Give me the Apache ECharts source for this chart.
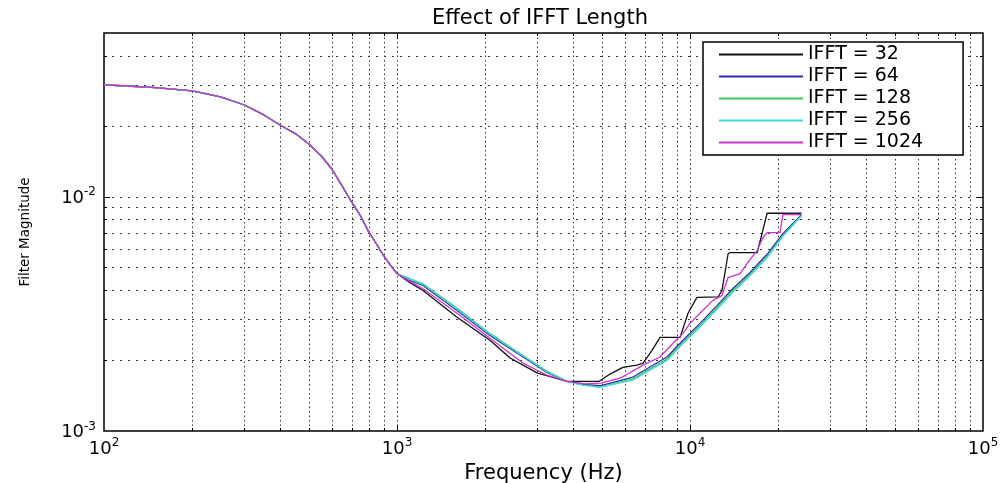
<!DOCTYPE html>
<html><head><meta charset="utf-8">
<script src="https://cdn.jsdelivr.net/npm/echarts@6/dist/echarts.min.js"></script>
<style>html,body{margin:0;padding:0;background:#fff}#c{width:1005px;height:483px}</style>
</head><body><div id="c"></div>
<script>
// ---- data ----
const seriesNames = ['IFFT = 32', 'IFFT = 64', 'IFFT = 128', 'IFFT = 256', 'IFFT = 1024'];
const seriesColors = ['#111111', '#2a2ab4', '#3cc85a', '#40d8d8', '#cc33cc'];

// shared low-frequency part (all curves overlap)
const lowFreq = [100, 120, 150, 200, 250, 300, 350, 400, 450, 500, 550, 600, 650, 700, 750, 800, 850, 900, 950, 1000];
const lowMag  = [0.0300, 0.0297, 0.0292, 0.0283, 0.0267, 0.0247, 0.0224, 0.0202, 0.0186, 0.0168, 0.0150, 0.0131, 0.0111, 0.0095, 0.0083, 0.0071, 0.0063, 0.0056, 0.0051, 0.0047];

const freq32 = [1100, 1227, 1603, 2075, 2432, 3006, 3802, 4900, 5333, 5902, 6592, 6918, 7420, 7902, 9250, 9846, 10560, 12470, 12860, 13490, 13710, 16950, 17620, 18330, 24000];
const mag32  = [0.00432, 0.00398, 0.00306, 0.00244, 0.00205, 0.00177, 0.00163, 0.00163, 0.00175, 0.00187, 0.00191, 0.00195, 0.00221, 0.00251, 0.00251, 0.00318, 0.00372, 0.00374, 0.00398, 0.00571, 0.00577, 0.00577, 0.00697, 0.00850, 0.00850];

const freqSmooth = [1100, 1227, 1603, 2075, 2692, 3251, 3802, 4311, 4931, 6391, 8347, 9463, 10820, 12360, 14020, 16030, 18330, 20750, 24000];
const mag64  = [0.00440, 0.00418, 0.00327, 0.00256, 0.00207, 0.00178, 0.00163, 0.00158, 0.00156, 0.00170, 0.00207, 0.00244, 0.00288, 0.00343, 0.00406, 0.00475, 0.00568, 0.00695, 0.00838];
const mag128 = [0.00448, 0.00425, 0.00334, 0.00261, 0.00210, 0.00180, 0.00163, 0.00157, 0.00154, 0.00167, 0.00203, 0.00239, 0.00282, 0.00336, 0.00398, 0.00466, 0.00557, 0.00684, 0.00832];
const mag256 = [0.00446, 0.00423, 0.00331, 0.00259, 0.00209, 0.00179, 0.00163, 0.00157, 0.00154, 0.00165, 0.00200, 0.00236, 0.00278, 0.00331, 0.00392, 0.00460, 0.00550, 0.00678, 0.00828];

const freq1024 = [1100, 1227, 1603, 2075, 2692, 3251, 3802, 4400, 4972, 5768, 6918, 7902, 8750, 9463, 10000, 10820, 11970, 12860, 13490, 14830, 15670, 16950, 17750, 18330, 20280, 20750, 24000];
const mag1024  = [0.00436, 0.00405, 0.00318, 0.00249, 0.00195, 0.00173, 0.00163, 0.00159, 0.00160, 0.00168, 0.00191, 0.00207, 0.00237, 0.00261, 0.00288, 0.00318, 0.00361, 0.00379, 0.00452, 0.00470, 0.00519, 0.00589, 0.00670, 0.00703, 0.00703, 0.00840, 0.00840];

// axis ranges and grid values
const xMin = 100, xMax = 100000, yMin = 0.001, yMax = 0.05;
const xGrid = [200, 300, 400, 500, 600, 700, 800, 900, 1000, 2000, 3000, 4000, 5000, 6000, 7000, 8000, 9000, 10000, 20000, 30000, 40000, 50000, 60000, 70000, 80000, 90000];
const yGrid = [0.002, 0.003, 0.004, 0.005, 0.006, 0.007, 0.008, 0.009, 0.01, 0.02, 0.03, 0.04];
const xMajor = [1000, 10000];
const yMajor = [0.01];

// ---- build ----
function zip(a, b) { return a.map((v, i) => [v, b[i]]); }
const low = zip(lowFreq, lowMag);
const curves = [
  low.concat(zip(freq32, mag32)),
  low.concat(zip(freqSmooth, mag64)),
  low.concat(zip(freqSmooth, mag128)),
  low.concat(zip(freqSmooth, mag256)),
  low.concat(zip(freq1024, mag1024))
];

const FONT = 'DejaVu Sans';
const rich = {
  b: { fontFamily: FONT, fontSize: 18, lineHeight: 21, verticalAlign: 'bottom', color: '#000' },
  s: { fontFamily: FONT, fontSize: 12, lineHeight: 12, verticalAlign: 'top', color: '#000' }
};
function fmt(v) {
  const e = Math.round(Math.log10(v));
  if (Math.abs(v / Math.pow(10, e) - 1) > 1e-6) return '';
  return '{b|10}{s|' + e + '}';
}

function vGrid(params, api) {
  const v = api.value(0);
  const cs = params.coordSys;
  const x = Math.round(api.coord([v, yMin])[0]) + 0.5;
  const top = cs.y, bot = cs.y + cs.height;
  const len = xMajor.indexOf(v) >= 0 ? 6 : 3;
  return { type: 'group', children: [
    { type: 'line', shape: { x1: x, y1: top, x2: x, y2: bot }, style: { stroke: '#333', lineWidth: 1, lineDash: [1.5, 3] } },
    { type: 'line', shape: { x1: x, y1: bot, x2: x, y2: bot - len }, style: { stroke: '#000', lineWidth: 1 } },
    { type: 'line', shape: { x1: x, y1: top, x2: x, y2: top + len }, style: { stroke: '#000', lineWidth: 1 } }
  ]};
}
function hGrid(params, api) {
  const v = api.value(1);
  const cs = params.coordSys;
  const y = Math.round(api.coord([xMin, v])[1]) + 0.5;
  const left = cs.x, right = cs.x + cs.width;
  const len = yMajor.indexOf(v) >= 0 ? 6 : 3;
  return { type: 'group', children: [
    { type: 'line', shape: { x1: left, y1: y, x2: right, y2: y }, style: { stroke: '#333', lineWidth: 1, lineDash: [2, 6] } },
    { type: 'line', shape: { x1: left, y1: y, x2: left + len, y2: y }, style: { stroke: '#000', lineWidth: 1 } },
    { type: 'line', shape: { x1: right, y1: y, x2: right - len, y2: y }, style: { stroke: '#000', lineWidth: 1 } }
  ]};
}

const chart = echarts.init(document.getElementById('c'), null, { renderer: 'canvas' });
const series = [
  { type: 'custom', renderItem: vGrid, data: xGrid.map(v => [v, yMin]), encode: { x: 0, y: 1 }, silent: true, z: 1 },
  { type: 'custom', renderItem: hGrid, data: yGrid.map(v => [xMin, v]), encode: { x: 0, y: 1 }, silent: true, z: 1 }
];
seriesNames.forEach((n, i) => {
  series.push({
    name: n, type: 'line', data: curves[i], symbol: 'none', showSymbol: false, z: 3,
    color: seriesColors[i],
    lineStyle: { width: 1.3, color: seriesColors[i] }
  });
});

chart.setOption({
  animation: false,
  backgroundColor: '#fff',
  title: {
    text: 'Effect of IFFT Length', left: 427, top: 3,
    textStyle: { fontFamily: FONT, fontSize: 21, fontWeight: 'normal', color: '#000' }
  },
  legend: {
    data: seriesNames, orient: 'vertical', left: 703, top: 42,
    itemWidth: 84, itemHeight: 14, itemGap: 3,
    padding: [3, 40, 3, 15],
    borderColor: '#000', borderWidth: 1.5, backgroundColor: '#fff',
    selectedMode: false,
    itemStyle: { opacity: 0 },
    textStyle: { fontFamily: FONT, fontSize: 19, lineHeight: 19, color: '#000' }
  },
  grid: {
    left: 104, right: 22, top: 33, bottom: 52,
    show: true, borderColor: '#000', borderWidth: 1.5, backgroundColor: '#fff',
    outerBoundsMode: 'none'
  },
  xAxis: {
    type: 'log', logBase: 10, min: xMin, max: xMax,
    axisLine: { show: false }, axisTick: { show: false }, splitLine: { show: false },
    axisLabel: { formatter: fmt, rich: rich, margin: 6, showMinLabel: true, showMaxLabel: true },
    name: 'Frequency (Hz)', nameLocation: 'middle', nameGap: 28,
    nameTextStyle: { fontFamily: FONT, fontSize: 21, color: '#000' }
  },
  yAxis: {
    type: 'log', logBase: 10, min: yMin, max: yMax,
    axisLine: { show: false }, axisTick: { show: false }, splitLine: { show: false },
    axisLabel: { formatter: fmt, rich: rich, margin: 8, showMinLabel: true, showMaxLabel: true },
    name: 'Filter Magnitude', nameLocation: 'middle', nameGap: 72,
    nameTextStyle: { fontFamily: 'DejaVu Sans', fontSize: 13.5, color: '#000' }
  },
  series: series
});
</script></body></html>
